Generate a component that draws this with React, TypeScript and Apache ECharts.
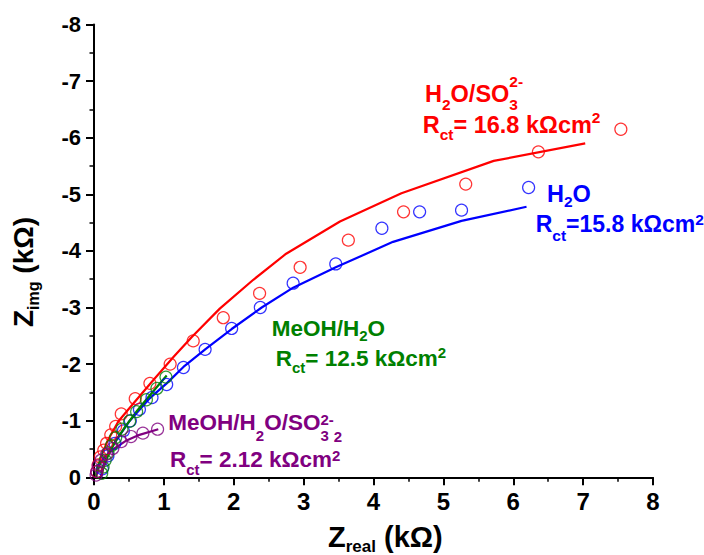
import React, { useEffect, useRef } from 'react';
import * as echarts from 'echarts';

// ---- data (kΩ) ----
const xTickValues = [0, 1, 2, 3, 4, 5, 6, 7, 8];
const yTickValues = [0, -1, -2, -3, -4, -5, -6, -7, -8];

const redData: [number, number][] = [
  [0.04, -0.1], [0.06, -0.22], [0.09, -0.36], [0.14, -0.48], [0.18, -0.6], [0.24, -0.75],
  [0.31, -0.9], [0.39, -1.12], [0.59, -1.39], [0.8, -1.66], [1.09, -2.0], [1.42, -2.41],
  [1.85, -2.82], [2.37, -3.25], [2.95, -3.71], [3.64, -4.19], [4.43, -4.69], [5.32, -5.18],
  [6.36, -5.75], [7.54, -6.15],
];
const redFit: [number, number][] = [
  [0.03, 0], [0.05, -0.15], [0.1, -0.36], [0.2, -0.66], [0.35, -0.99], [0.56, -1.3],
  [0.85, -1.72], [1.14, -2.13], [1.4, -2.48], [1.8, -2.98], [2.28, -3.49], [2.75, -3.95],
  [3.52, -4.52], [4.4, -5.02], [5.72, -5.59], [7.03, -5.9],
];
const blueData: [number, number][] = [
  [0.12, -0.15], [0.2, -0.38], [0.3, -0.6], [0.42, -0.82], [0.52, -1.0], [0.65, -1.2],
  [0.83, -1.41], [1.04, -1.64], [1.28, -1.94], [1.59, -2.26], [1.97, -2.63], [2.38, -3.0],
  [2.85, -3.43], [3.46, -3.77], [4.12, -4.4], [4.66, -4.69], [5.26, -4.72], [6.22, -5.12],
];
const blueFit: [number, number][] = [
  [0.1, 0], [0.13, -0.2], [0.2, -0.42], [0.3, -0.62], [0.5, -0.98], [0.8, -1.4], [1.04, -1.66],
  [1.28, -1.95], [1.6, -2.27], [1.97, -2.62], [2.4, -3.0], [2.85, -3.35], [3.46, -3.71],
  [4.28, -4.16], [5.26, -4.53], [6.19, -4.78],
];
const greenData: [number, number][] = [
  [0.11, -0.07], [0.13, -0.18], [0.16, -0.3], [0.2, -0.43], [0.25, -0.56], [0.31, -0.7],
  [0.4, -0.85], [0.51, -0.99], [0.61, -1.16], [0.75, -1.37], [0.9, -1.57], [1.03, -1.77],
];
const greenFit: [number, number][] = [
  [0.1, 0], [0.13, -0.15], [0.2, -0.38], [0.3, -0.62], [0.45, -0.9], [0.62, -1.18],
  [0.8, -1.45], [1.04, -1.8],
];
const purpleData: [number, number][] = [
  [0.03, -0.04], [0.04, -0.1], [0.06, -0.2], [0.1, -0.3], [0.18, -0.41], [0.27, -0.51],
  [0.39, -0.63], [0.53, -0.72], [0.7, -0.78], [0.91, -0.85],
];
const purpleFit: [number, number][] = [
  [0.03, 0], [0.05, -0.12], [0.09, -0.25], [0.16, -0.37], [0.28, -0.5], [0.45, -0.64],
  [0.65, -0.75], [0.92, -0.85],
];

const RED = '#ff0000';
const BLUE = '#0000ff';
const GREEN = '#008000';
const PURPLE = '#800080';
const FONT = 'Arial, "Liberation Sans", Helvetica, sans-serif';

type Seg = { t: string; small?: boolean; dy?: number; stack?: boolean };

let mctx: CanvasRenderingContext2D | null = null;
function measure(t: string, size: number): number {
  if (!mctx) mctx = document.createElement('canvas').getContext('2d');
  if (!mctx) return t.length * size * 0.55;
  mctx.font = `bold ${size}px ${FONT}`;
  return mctx.measureText(t).width;
}

function richLabel(segs: Seg[], x: number, y: number, color: string, fs: number, ss: number, rotation = 0) {
  let cx = 0;
  let stackW = 0;
  const children: any[] = [];
  segs.forEach((s) => {
    const size = s.small ? ss : fs;
    const w = measure(s.t, size);
    children.push({
      type: 'text',
      x: cx,
      y: (s.dy || 0) - 0.3465 * size,
      style: {
        text: s.t,
        font: `bold ${size}px ${FONT}`,
        fill: color,
        align: 'left',
        verticalAlign: 'middle',
        textAlign: 'left',
        textVerticalAlign: 'middle',
      },
    });
    if (s.stack) {
      stackW = Math.max(stackW, w);
    } else {
      cx += Math.max(w, stackW);
      stackW = 0;
    }
  });
  return { type: 'group', x, y, rotation, silent: true, children };
}

const App: React.FC = () => {
  const ref = useRef<HTMLDivElement>(null);
  useEffect(() => {
    if (!ref.current) return;
    const chart = echarts.init(ref.current, undefined, { renderer: 'svg' });

    const fitSeries = (data: [number, number][], color: string) => ({
      type: 'line',
      data,
      showSymbol: false,
      symbol: 'none',
      smooth: false,
      lineStyle: { color, width: 2.2 },
      z: 2,
    });
    const dataSeries = (data: [number, number][], color: string) => ({
      type: 'scatter',
      data,
      symbol: 'circle',
      symbolSize: 12,
      itemStyle: { color: 'rgba(0,0,0,0)', borderColor: color, borderWidth: 1.2 },
      z: 3,
    });

    const axisCommon = {
      type: 'value',
      interval: 1,
      splitLine: { show: false },
      axisLine: { show: true, onZero: false, lineStyle: { color: '#000', width: 2 } },
      axisTick: { show: true, inside: false, length: 8, lineStyle: { color: '#000', width: 2 } },
      minorTick: { show: true, splitNumber: 2, length: 4.5, lineStyle: { color: '#000', width: 1.5 } },
    };

    chart.setOption({
      animation: false,
      backgroundColor: '#fff',
      grid: { left: 94, right: 51, top: 24.5, bottom: 77.7, containLabel: false },
      xAxis: {
        ...axisCommon,
        min: xTickValues[0],
        max: xTickValues[xTickValues.length - 1],
        axisLabel: { fontSize: 24, fontWeight: 'bold', fontFamily: FONT, color: '#000', margin: 12 },
      },
      yAxis: {
        ...axisCommon,
        inverse: true,
        min: yTickValues[yTickValues.length - 1],
        max: yTickValues[0],
        axisLabel: { fontSize: 22, fontWeight: 'bold', fontFamily: FONT, color: '#000', margin: 13 },
      },
      series: [
        fitSeries(blueFit, BLUE),
        dataSeries(blueData, BLUE),
        fitSeries(redFit, RED),
        dataSeries(redData, RED),
        fitSeries(greenFit, GREEN),
        dataSeries(greenData, GREEN),
        fitSeries(purpleFit, PURPLE),
        dataSeries(purpleData, PURPLE),
      ],
      graphic: [
        richLabel([{ t: 'H' }, { t: '2', small: true, dy: 8 }, { t: 'O/SO' },
          { t: '3', small: true, dy: 8, stack: true }, { t: '2-', small: true, dy: -15 }], 425, 101.7, RED, 23.5, 15.5),
        richLabel([{ t: 'R' }, { t: 'ct', small: true, dy: 7 }, { t: '= 16.8 kΩcm' },
          { t: '2', small: true, dy: -9.5 }], 422.7, 132.7, RED, 23.5, 15.5),
        richLabel([{ t: 'H' }, { t: '2', small: true, dy: 5 }, { t: 'O' }], 547, 202, BLUE, 23.5, 15.5),
        richLabel([{ t: 'R' }, { t: 'ct', small: true, dy: 9 }, { t: '=15.8 kΩcm' },
          { t: '2', small: true, dy: -7 }], 535.7, 232, BLUE, 23, 15.5),
        richLabel([{ t: 'MeOH/H' }, { t: '2', small: true, dy: 5 }, { t: 'O' }], 271.7, 336, GREEN, 22.5, 15),
        richLabel([{ t: 'R' }, { t: 'ct', small: true, dy: 7 }, { t: '= 12.5 kΩcm' },
          { t: '2', small: true, dy: -8.7 }], 275.7, 366, GREEN, 22.5, 15),
        richLabel([{ t: 'MeOH/H' }, { t: '2', small: true, dy: 10 }, { t: 'O/SO' },
          { t: '3', small: true, dy: 10, stack: true }, { t: '2-', small: true, dy: -6 },
          { t: '2', small: true, dy: 11 }], 168.3, 430.5, PURPLE, 22.5, 15),
        richLabel([{ t: 'R' }, { t: 'ct', small: true, dy: 8 }, { t: '= 2.12 kΩcm' },
          { t: '2', small: true, dy: -6 }], 170, 467, PURPLE, 22.5, 15),
        richLabel([{ t: 'Z' }, { t: 'real', small: true, dy: 6 }, { t: ' (kΩ)' }], 328, 546.7, '#000', 29, 17),
        richLabel([{ t: 'Z' }, { t: 'img', small: true, dy: 6 }, { t: ' (kΩ)' }], 33, 327, '#000', 28, 16, Math.PI / 2),
      ],
    });
    return () => chart.dispose();
  }, []);
  return <div ref={ref} style={{ position: 'absolute', left: 0, top: 0, width: 704, height: 555 }} />;
};

export default App;
